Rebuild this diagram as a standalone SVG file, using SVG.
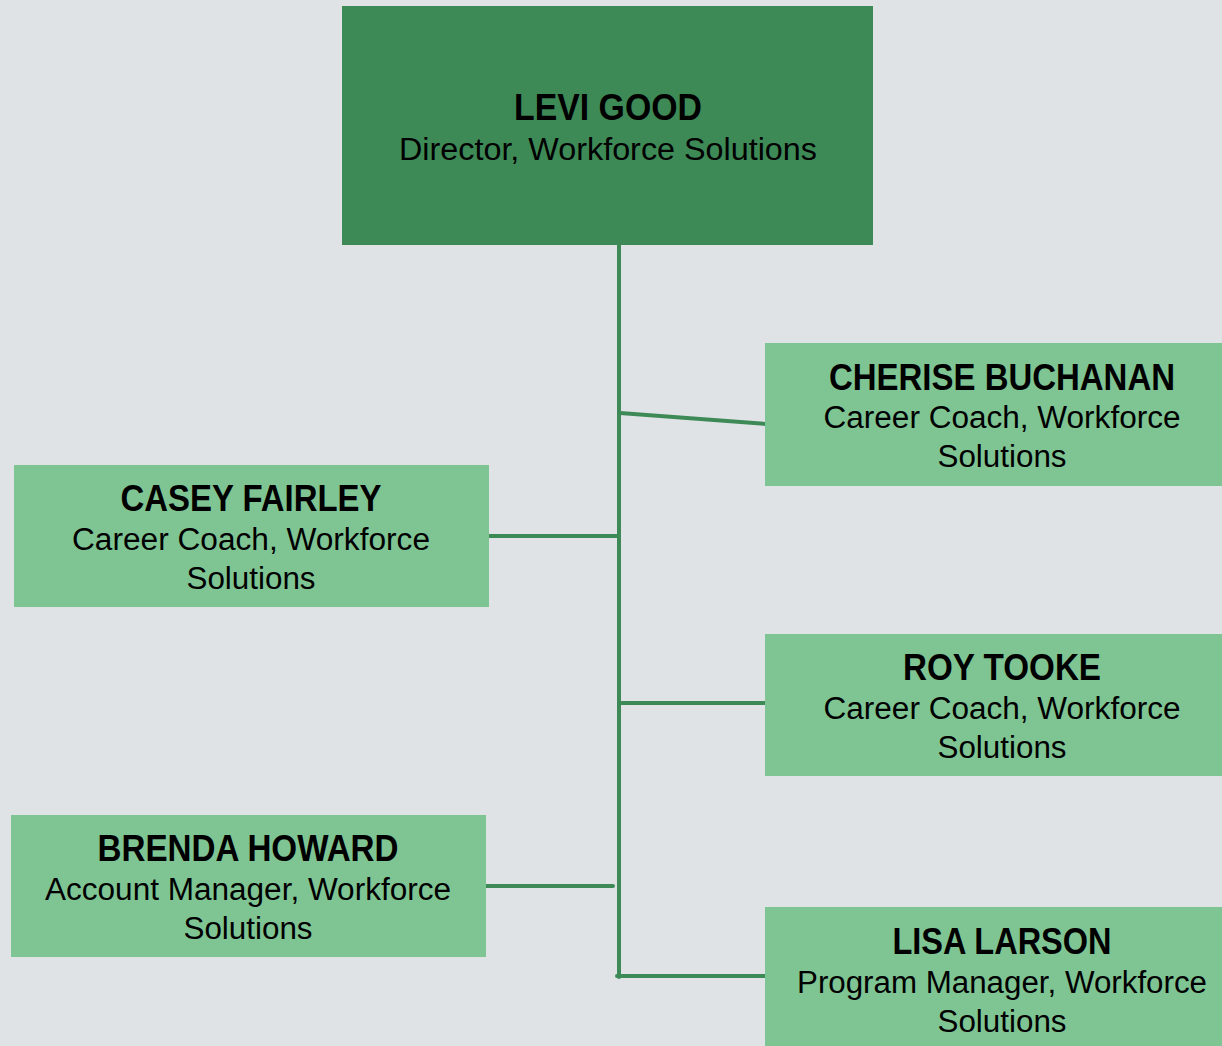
<svg xmlns="http://www.w3.org/2000/svg" width="1222" height="1046" viewBox="0 0 1222 1046">
<style>
.bg{fill:#DFE3E6}
.top{fill:#3E8A57}
.box{fill:#7FC594}
.name{font-family:"Liberation Sans",Arial,sans-serif;font-weight:bold;font-size:36px;fill:#000;text-anchor:middle}
.role{font-family:"Liberation Sans",Arial,sans-serif;font-size:31px;fill:#000;text-anchor:middle}
.conn line{stroke:#3E8A57;stroke-width:4;stroke-linecap:round}
</style>
<rect class="bg" x="0" y="0" width="1222" height="1046"/>
<g id="connectors" class="conn">
<line x1="619" y1="245" x2="619" y2="977"/>
<line x1="620" y1="413" x2="766" y2="424"/>
<line x1="488" y1="536" x2="618" y2="536"/>
<line x1="620" y1="703" x2="770" y2="703"/>
<line x1="486" y1="886" x2="613" y2="886"/>
<line x1="617" y1="976" x2="766" y2="976"/>
</g>
<g id="levi-good">
<rect class="top" x="342" y="6" width="531" height="239"/>
<text class="name" x="608" y="120" textLength="188" lengthAdjust="spacingAndGlyphs">LEVI GOOD</text>
<text class="role" x="608" y="160" textLength="418" lengthAdjust="spacingAndGlyphs">Director, Workforce Solutions</text>
</g>
<g id="cherise-buchanan">
<rect class="box" x="765" y="343" width="457" height="143"/>
<text class="name" x="1002" y="390" textLength="346" lengthAdjust="spacingAndGlyphs">CHERISE BUCHANAN</text>
<text class="role" x="1002" y="428" textLength="357" lengthAdjust="spacingAndGlyphs">Career Coach, Workforce</text>
<text class="role" x="1002" y="467" textLength="129" lengthAdjust="spacingAndGlyphs">Solutions</text>
</g>
<g id="casey-fairley">
<rect class="box" x="14" y="465" width="475" height="142"/>
<text class="name" x="251" y="511" textLength="261" lengthAdjust="spacingAndGlyphs">CASEY FAIRLEY</text>
<text class="role" x="251" y="550" textLength="358" lengthAdjust="spacingAndGlyphs">Career Coach, Workforce</text>
<text class="role" x="251" y="589" textLength="129" lengthAdjust="spacingAndGlyphs">Solutions</text>
</g>
<g id="roy-tooke">
<rect class="box" x="765" y="634" width="457" height="142"/>
<text class="name" x="1002" y="680" textLength="198" lengthAdjust="spacingAndGlyphs">ROY TOOKE</text>
<text class="role" x="1002" y="719" textLength="357" lengthAdjust="spacingAndGlyphs">Career Coach, Workforce</text>
<text class="role" x="1002" y="758" textLength="129" lengthAdjust="spacingAndGlyphs">Solutions</text>
</g>
<g id="brenda-howard">
<rect class="box" x="11" y="815" width="475" height="142"/>
<text class="name" x="248" y="861" textLength="301" lengthAdjust="spacingAndGlyphs">BRENDA HOWARD</text>
<text class="role" x="248" y="900" textLength="406" lengthAdjust="spacingAndGlyphs">Account Manager, Workforce</text>
<text class="role" x="248" y="939" textLength="129" lengthAdjust="spacingAndGlyphs">Solutions</text>
</g>
<g id="lisa-larson">
<rect class="box" x="765" y="907" width="457" height="139"/>
<text class="name" x="1002" y="954" textLength="219" lengthAdjust="spacingAndGlyphs">LISA LARSON</text>
<text class="role" x="1002" y="993" textLength="410" lengthAdjust="spacingAndGlyphs">Program Manager, Workforce</text>
<text class="role" x="1002" y="1032" textLength="129" lengthAdjust="spacingAndGlyphs">Solutions</text>
</g>
</svg>
